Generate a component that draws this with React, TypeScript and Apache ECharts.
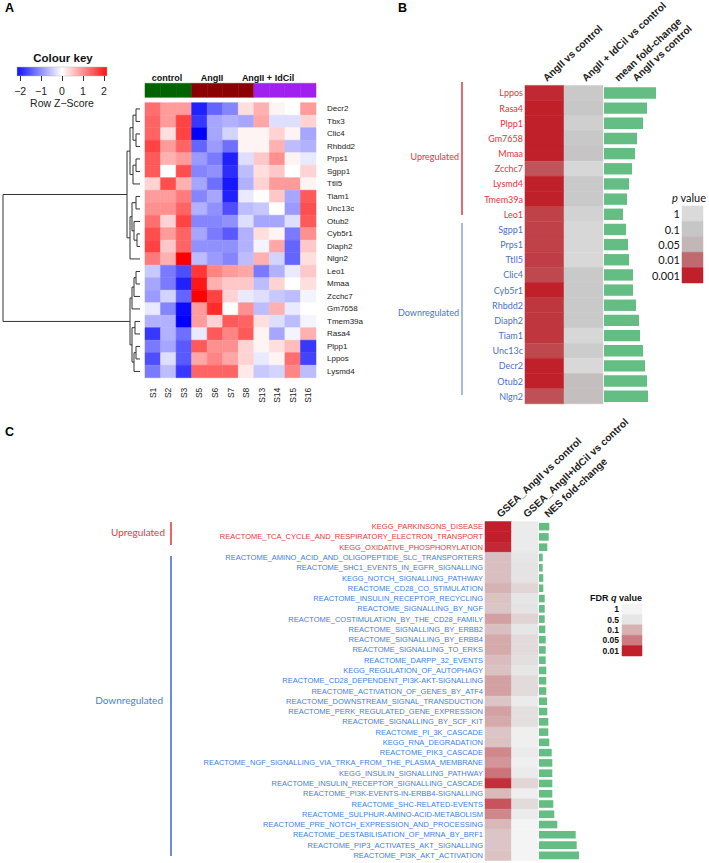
import React, { useEffect, useRef } from 'react';
import * as echarts from 'echarts';

// ---------------- Panel A data ----------------
const A_SAMPLES = ['S1', 'S2', 'S3', 'S5', 'S6', 'S7', 'S8', 'S13', 'S14', 'S15', 'S16'];
const A_GENES = ['Decr2', 'Tbx3', 'Clic4', 'Rhbdd2', 'Prps1', 'Sgpp1', 'Ttll5', 'Tiam1', 'Unc13c', 'Otub2', 'Cyb5r1', 'Diaph2', 'Nlgn2', 'Leo1', 'Mmaa', 'Zcchc7', 'Gm7658', 'Tmem39a', 'Rasa4', 'Plpp1', 'Lppos', 'Lysmd4'];
const A_ZSCORES = [
  [1.3, 0.9, 0.9, -2.0, -1.4, -1.1, 0.3, 0.7, 0.1, 0, 0.9],
  [1.4, 0.9, 1.7, -1.8, -0.8, -0.7, -0.8, 0.8, -0.3, -0.3, 0.4],
  [1.4, 0.3, 1.7, -2.3, -0.8, -0.4, 0.1, 0.1, 0.4, 0.1, -0.8],
  [1.7, 0.9, 1.4, -1.4, -0.9, -1.3, 0.1, 0.1, 0.7, -0.6, -0.7],
  [1.5, 0.7, 0.9, -0.9, -1.2, -2.0, -0.3, 0.5, 1.0, 0.1, -0.2],
  [1.5, 0.0, 1.6, -1.1, -1.0, -1.9, -0.6, 0.3, 0.5, 0, 0.4],
  [0.4, 1.6, 0.7, -0.8, -1.3, -2.1, -0.7, 0.4, 0.9, 0.9, 0.1],
  [0.9, 0.9, 1.2, -1.1, -0.8, -2.0, -0.2, 0, 0.5, -0.8, 1.5],
  [1.0, 1.0, 1.4, -0.7, -1.0, -1.6, -0.6, -0.5, 0, -0.9, 1.6],
  [1.3, 0.4, 1.7, -1.1, -1.1, -1.0, -0.3, -0.8, -0.8, -0.3, 1.5],
  [1.6, 0.9, 1.4, -0.8, -1.2, -1.5, -0.7, 0.3, 0.1, -1.2, 1.0],
  [1.7, 0.5, 1.4, -1.0, -1.0, -1.0, -0.7, -0.1, 0.8, -1.4, 0.5],
  [1.2, 0.7, 2.3, -0.6, -0.9, -1.1, -0.6, 0.7, -0.4, -1.4, 0.3],
  [-0.5, -1.2, -1.6, 1.8, 1.1, 0.9, 0.8, -1.2, -0.7, -0.2, 0.5],
  [-0.8, -1.2, -2.0, 2.1, 0.7, 0.5, 0.5, -0.6, 0.4, 0, 0.3],
  [-0.9, -0.4, -1.4, 2.3, 1.7, 0.4, -0.2, -0.3, -0.5, -0.6, -0.1],
  [-0.2, -1.1, -2.2, 0.9, 1.9, 0, 1.0, -0.6, 0.7, -0.2, 0],
  [-0.7, -0.7, -2.4, 0.9, 0.4, 1.5, 1.4, 0.3, -0.3, -0.6, -0.1],
  [-1.8, -0.7, -1.3, -0.2, 1.5, 1.1, 1.5, 0.1, -0.8, -0.1, 0.7],
  [-1.2, -0.8, -1.5, 1.5, 1.0, 1.0, 0.4, 0.1, 0.3, 0.6, -1.8],
  [-1.6, -0.3, -1.5, 0.8, 1.1, 0.8, 0.4, -0.2, 0.1, 1.3, -1.7],
  [-1.2, -0.6, -1.8, 1.4, 1.4, 1.4, 0.2, -0.5, -0.4, 1.1, -0.6],
];
const A_GROUPS = ['control', 'AngII', 'AngII + IdCil'];
const A_GROUP_OF_SAMPLE = [0, 0, 0, 1, 1, 1, 1, 2, 2, 2, 2];
const A_KEY_TICKS = [-2, -1, 0, 1, 2];
// row dendrogram merges: [childA, childB, height]; child = gene name or merge index
const A_DENDRO_MERGES: [string | number, string | number, number][] = [
  ['Decr2', 'Tbx3', 4],
  ['Clic4', 'Rhbdd2', 4],
  [0, 1, 7],
  ['Prps1', 'Sgpp1', 4],
  [3, 'Ttll5', 7],
  [2, 4, 10],
  ['Tiam1', 'Unc13c', 4],
  ['Cyb5r1', 'Diaph2', 3],
  ['Otub2', 7, 6],
  [6, 8, 8],
  [9, 'Nlgn2', 10],
  [5, 10, 13],
  ['Leo1', 'Mmaa', 4],
  [12, 'Zcchc7', 6],
  [13, 'Gm7658', 8],
  ['Tmem39a', 'Rasa4', 5],
  ['Plpp1', 'Lppos', 4],
  [16, 'Lysmd4', 6],
  [15, 17, 8],
  [14, 18, 10],
  [11, 19, 137],
];

// ---------------- Panel B data ----------------
const B_COLUMNS = ['AngII vs control', 'AngII + IdCil vs control'];
const B_BAR_HEADER = ['mean fold-change', 'AngII vs control'];
const B_GENES = ['Lppos', 'Rasa4', 'Plpp1', 'Gm7658', 'Mmaa', 'Zcchc7', 'Lysmd4', 'Tmem39a', 'Leo1', 'Sgpp1', 'Prps1', 'Ttll5', 'Clic4', 'Cyb5r1', 'Rhbdd2', 'Diaph2', 'Tiam1', 'Unc13c', 'Decr2', 'Otub2', 'Nlgn2'];
const B_UP_COUNT = 9;
const B_P_ANGII = [0.0013, 0.0005, 0.0005, 0.0005, 0.0005, 0.005, 0.0007, 0.0008, 0.0028, 0.0028, 0.0028, 0.0025, 0.0035, 0.0005, 0.002, 0.002, 0.002, 0.0035, 0.0005, 0.0006, 0.0045];
const B_P_IDCIL = [0.14, 0.11, 0.28, 0.12, 0.09, 0.7, 0.14, 0.14, 0.4, 0.7, 0.7, 0.8, 0.14, 0.14, 0.14, 0.14, 0.7, 0.2, 0.8, 0.07, 0.07];
const B_MEAN_FOLD = [5.2, 4.3, 3.9, 3.3, 3.1, 2.8, 2.5, 2.3, 1.9, 2.2, 2.4, 2.5, 2.9, 2.9, 3.2, 3.5, 3.6, 3.9, 4.1, 4.3, 4.4];
const B_LEGEND_LEVELS = [1, 0.1, 0.05, 0.01, 0.001];

// ---------------- Panel C data ----------------
const C_COLUMNS = ['GSEA_AngII vs control', 'GSEA_AngII+IdCil vs control'];
const C_BAR_HEADER = 'NES fold-change';
const C_PATHWAYS = [
  'KEGG_PARKINSONS_DISEASE',
  'REACTOME_TCA_CYCLE_AND_RESPIRATORY_ELECTRON_TRANSPORT',
  'KEGG_OXIDATIVE_PHOSPHORYLATION',
  'REACTOME_AMINO_ACID_AND_OLIGOPEPTIDE_SLC_TRANSPORTERS',
  'REACTOME_SHC1_EVENTS_IN_EGFR_SIGNALLING',
  'KEGG_NOTCH_SIGNALLING_PATHWAY',
  'REACTOME_CD28_CO_STIMULATION',
  'REACTOME_INSULIN_RECEPTOR_RECYCLING',
  'REACTOME_SIGNALLING_BY_NGF',
  'REACTOME_COSTIMULATION_BY_THE_CD28_FAMILY',
  'REACTOME_SIGNALLING_BY_ERBB2',
  'REACTOME_SIGNALLING_BY_ERBB4',
  'REACTOME_SIGNALLING_TO_ERKS',
  'REACTOME_DARPP_32_EVENTS',
  'KEGG_REGULATION_OF_AUTOPHAGY',
  'REACTOME_CD28_DEPENDENT_PI3K-AKT-SIGNALLING',
  'REACTOME_ACTIVATION_OF_GENES_BY_ATF4',
  'REACTOME_DOWNSTREAM_SIGNAL_TRANSDUCTION',
  'REACTOME_PERK_REGULATED_GENE_EXPRESSION',
  'REACTOME_SIGNALLING_BY_SCF_KIT',
  'REACTOME_PI_3K_CASCADE',
  'KEGG_RNA_DEGRADATION',
  'REACTOME_PIK3_CASCADE',
  'REACTOME_NGF_SIGNALLING_VIA_TRKA_FROM_THE_PLASMA_MEMBRANE',
  'KEGG_INSULIN_SIGNALLING_PATHWAY',
  'REACTOME_INSULIN_RECEPTOR_SIGNALLING_CASCADE',
  'REACTOME_PI3K-EVENTS-IN-ERBB4-SIGNALLING',
  'REACTOME_SHC-RELATED-EVENTS',
  'REACTOME_SULPHUR-AMINO-ACID-METABOLISM',
  'REACTOME_PRE_NOTCH_EXPRESSION_AND_PROCESSING',
  'REACTOME_DESTABILISATION_OF_MRNA_BY_BRF1',
  'REACTOME_PIP3_ACTIVATES_AKT_SIGNALLING',
  'REACTOME_PI3K_AKT_ACTIVATION',
];
const C_UP_COUNT = 3;
const C_Q_ANGII = [0.005, 0.005, 0.012, 0.15, 0.15, 0.15, 0.1, 0.17, 0.18, 0.08, 0.15, 0.09, 0.09, 0.14, 0.16, 0.08, 0.08, 0.18, 0.08, 0.09, 0.18, 0.17, 0.06, 0.07, 0.045, 0.013, 0.13, 0.025, 0.058, 0.12, 0.18, 0.18, 0.17];
const C_Q_IDCIL = [0.65, 0.65, 0.65, 0.5, 0.45, 0.45, 0.3, 0.5, 0.45, 0.28, 0.5, 0.35, 0.35, 0.4, 0.5, 0.35, 0.35, 0.65, 0.4, 0.4, 0.8, 0.8, 0.65, 0.8, 0.65, 0.3, 0.8, 0.35, 0.65, 1, 1, 1, 1];
const C_NES_FOLD = [1.03, 0.97, 0.83, 0.37, 0.37, 0.43, 0.43, 0.57, 0.57, 0.57, 0.63, 0.67, 0.67, 0.67, 0.73, 0.73, 0.73, 0.8, 0.83, 0.93, 0.93, 1.03, 1.27, 1.33, 1.33, 1.33, 1.33, 1.43, 1.53, 1.83, 3.67, 3.77, 4.0];
const C_LEGEND_LEVELS = [1, 0.5, 0.1, 0.05, 0.01];

// ---------------- styles / layout ----------------
const FONT = 'Liberation Sans';
const CAL = 'Lato';
const RED_B = '#e8323a';
const BLUE_B = '#4a72c8';
const RED_C = '#ee3636';
const BLUE_C = '#3b80e6';
const GREEN = '#64bd82';
const GROUP_COLORS = ['#006400', '#8b0000', '#a020f0'];
const B_STOPS: [number, string][] = [[0, '#dadada'], [1, '#c6c6c6'], [1.3, '#c3b6b6'], [2, '#bf6a6e'], [3, '#c0202a']];
const C_STOPS: [number, string][] = [[0, '#f4f4f4'], [0.3, '#e6e6e6'], [1, '#d6b2b3'], [1.3, '#cc7b80'], [2, '#c11f2b']];

const G_B_HEAT = { left: 525, top: 85.4, width: 78, height: 318.4 };
const G_C_HEAT = { left: 485, top: 521.5, width: 53, height: 339 };
const HEADER_ROT = (43 * Math.PI) / 180;

function hex(h: string) {
  return [parseInt(h.slice(1, 3), 16), parseInt(h.slice(3, 5), 16), parseInt(h.slice(5, 7), 16)];
}
function interp(stops: [number, string][], x: number) {
  if (x <= stops[0][0]) return stops[0][1];
  if (x >= stops[stops.length - 1][0]) return stops[stops.length - 1][1];
  for (let i = 0; i < stops.length - 1; i++) {
    const [x0, c0] = stops[i];
    const [x1, c1] = stops[i + 1];
    if (x >= x0 && x <= x1) {
      const t = (x - x0) / (x1 - x0);
      const a = hex(c0), b = hex(c1);
      const r = a.map((v, k) => Math.round(v + (b[k] - v) * t));
      return `rgb(${r[0]},${r[1]},${r[2]})`;
    }
  }
  return stops[0][1];
}
const aColor = (v: number) => {
  const t = Math.max(-1, Math.min(1, v / 2.3));
  if (t < 0) {
    const g = Math.round(255 * (1 + t));
    return `rgb(${g},${g},255)`;
  }
  const g = Math.round(255 * (1 - t));
  return `rgb(255,${g},${g})`;
};
const bColor = (p: number) => interp(B_STOPS, -Math.log10(p));
const cColor = (q: number) => interp(C_STOPS, -Math.log10(q));

const heatRender = (colorFn: (v: number) => string) => (params: any, api: any) => {
  const c = api.coord([api.value(0), api.value(1)]);
  const s = api.size([1, 1]);
  const fill = colorFn(api.value(2));
  return {
    type: 'rect',
    shape: { x: c[0] - s[0] / 2, y: c[1] - s[1] / 2, width: s[0], height: s[1] },
    style: { fill, stroke: fill, lineWidth: 0.5 },
  };
};

function buildDendro() {
  const ys: number[] = [];
  const hs: number[] = [];
  const data: number[][] = [];
  const yOf = (c: string | number) => (typeof c === 'string' ? A_GENES.indexOf(c) : ys[c]);
  const hOf = (c: string | number) => (typeof c === 'string' ? 0 : hs[c]);
  A_DENDRO_MERGES.forEach(([a, b, h]) => {
    const ya = yOf(a), yb = yOf(b);
    data.push([h, ya, yb, hOf(a), hOf(b)]);
    ys.push((ya + yb) / 2);
    hs.push(h);
  });
  return data;
}

function buildOption() {
  const noLine = { axisLine: { show: false }, axisTick: { show: false }, splitLine: { show: false } };
  const aHeat: number[][] = [];
  A_ZSCORES.forEach((row, r) => row.forEach((v, c) => aHeat.push([c, r, v])));
  const bHeat: number[][] = [];
  B_GENES.forEach((_, r) => {
    bHeat.push([0, r, B_P_ANGII[r]]);
    bHeat.push([1, r, B_P_IDCIL[r]]);
  });
  const cHeat: number[][] = [];
  C_PATHWAYS.forEach((_, r) => {
    cHeat.push([0, r, C_Q_ANGII[r]]);
    cHeat.push([1, r, C_Q_IDCIL[r]]);
  });

  const grid = [
    { left: 3, top: 102.7, width: 137, height: 275 }, // 0 dendrogram
    { left: 145, top: 102.7, width: 171, height: 275 }, // 1 heatmap A
    { left: 145, top: 83.3, width: 171, height: 14 }, // 2 annotation
    { left: 17, top: 67, width: 90, height: 9 }, // 3 colour key
    G_B_HEAT, // 4 B heat
    { left: 604, top: 85.4, width: 56, height: 318.4 }, // 5 B bars
    { left: 682, top: 206, width: 21, height: 77 }, // 6 B legend
    G_C_HEAT, // 7 C heat
    { left: 539, top: 521.5, width: 42, height: 339 }, // 8 C bars
    { left: 622, top: 604, width: 20, height: 52 }, // 9 C legend
  ].map((g) => ({ ...g, outerBoundsMode: 'none', containLabel: false }));

  const xAxis: any[] = [
    { gridIndex: 0, type: 'value', min: 0, max: 137, inverse: true, show: false },
    {
      gridIndex: 1, type: 'category', data: A_SAMPLES, position: 'bottom', ...noLine,
      axisLabel: { rotate: 90, interval: 0, fontSize: 8.5, margin: 10, color: '#222', fontFamily: FONT },
    },
    { gridIndex: 2, type: 'category', data: A_SAMPLES, show: false },
    {
      gridIndex: 3, type: 'value', min: -2.15, max: 2.15,
      axisLine: { show: false }, splitLine: { show: false },
      axisTick: { show: true, length: 5, customValues: A_KEY_TICKS, lineStyle: { color: '#333', width: 1 } },
      axisLabel: {
        customValues: A_KEY_TICKS, fontSize: 10.5, margin: 9, color: '#222', fontFamily: FONT,
        formatter: (v: number) => (v < 0 ? '\u2212' + Math.abs(v) : String(v)),
      },
      name: 'Row Z\u2212Score', nameLocation: 'middle', nameGap: 21,
      nameTextStyle: { fontSize: 10.5, color: '#222', fontFamily: FONT },
    },
    { gridIndex: 4, type: 'category', data: B_COLUMNS, show: false },
    { gridIndex: 5, type: 'value', min: 0, max: 5.6, show: false },
    { gridIndex: 6, type: 'category', data: ['p'], show: false },
    { gridIndex: 7, type: 'category', data: C_COLUMNS, show: false },
    { gridIndex: 8, type: 'value', min: 0, max: 4.2, show: false },
    { gridIndex: 9, type: 'category', data: ['q'], show: false },
  ];

  const yAxis: any[] = [
    { gridIndex: 0, type: 'value', min: -0.5, max: A_GENES.length - 0.5, inverse: true, show: false },
    {
      gridIndex: 1, type: 'category', data: A_GENES, inverse: true, position: 'right', ...noLine,
      axisLabel: { interval: 0, fontSize: 8, margin: 11, color: '#222', fontFamily: FONT },
    },
    { gridIndex: 2, type: 'category', data: ['group'], show: false },
    { gridIndex: 3, type: 'value', min: 0, max: 1, show: false },
    {
      gridIndex: 4, type: 'category', data: B_GENES, inverse: true, position: 'left', ...noLine,
      axisLabel: {
        interval: 0, fontSize: 9, margin: 2, fontFamily: CAL,
        color: (v: string) => (B_GENES.indexOf(v) < B_UP_COUNT ? RED_B : BLUE_B),
      },
    },
    { gridIndex: 5, type: 'category', data: B_GENES, inverse: true, show: false },
    {
      gridIndex: 6, type: 'category', data: B_LEGEND_LEVELS.map(String), inverse: true, position: 'left', ...noLine,
      axisLabel: { interval: 0, fontSize: 11, margin: 2, fontFamily: CAL, color: '#111' },
    },
    {
      gridIndex: 7, type: 'category', data: C_PATHWAYS, inverse: true, position: 'left', ...noLine,
      axisLabel: {
        interval: 0, fontSize: 7.5, margin: 2, fontFamily: FONT,
        color: (v: string) => (C_PATHWAYS.indexOf(v) < C_UP_COUNT ? RED_C : BLUE_C),
      },
    },
    { gridIndex: 8, type: 'category', data: C_PATHWAYS, inverse: true, show: false },
    {
      gridIndex: 9, type: 'category', data: C_LEGEND_LEVELS.map(String), inverse: true, position: 'left', ...noLine,
      axisLabel: { interval: 0, fontSize: 8.5, fontWeight: 'bold', margin: 3, fontFamily: FONT, color: '#111' },
    },
  ];

  const series: any[] = [
    {
      type: 'custom', xAxisIndex: 0, yAxisIndex: 0, data: buildDendro(),
      encode: { x: [0, 3, 4], y: [1, 2] },
      renderItem: (params: any, api: any) => {
        const h = api.value(0), ya = api.value(1), yb = api.value(2), ha = api.value(3), hb = api.value(4);
        const pts = [api.coord([ha, ya]), api.coord([h, ya]), api.coord([h, yb]), api.coord([hb, yb])];
        return { type: 'polyline', shape: { points: pts }, style: { stroke: '#333', lineWidth: 1, fill: 'none' } };
      },
    },
    { type: 'custom', xAxisIndex: 1, yAxisIndex: 1, data: aHeat, encode: { x: 0, y: 1 }, renderItem: heatRender(aColor) },
    {
      type: 'custom', xAxisIndex: 2, yAxisIndex: 2, encode: { x: 0, y: 1 },
      data: A_GROUP_OF_SAMPLE.map((g, i) => [i, 0, g]),
      renderItem: heatRender((g) => GROUP_COLORS[g]),
    },
    { type: 'custom', xAxisIndex: 4, yAxisIndex: 4, data: bHeat, encode: { x: 0, y: 1 }, renderItem: heatRender(bColor) },
    {
      type: 'bar', xAxisIndex: 5, yAxisIndex: 5, data: B_MEAN_FOLD, barCategoryGap: '25%',
      itemStyle: { color: GREEN },
    },
    {
      type: 'custom', xAxisIndex: 6, yAxisIndex: 6, encode: { x: 0, y: 1 },
      data: B_LEGEND_LEVELS.map((l, i) => [0, i, l]), renderItem: heatRender(bColor),
    },
    { type: 'custom', xAxisIndex: 7, yAxisIndex: 7, data: cHeat, encode: { x: 0, y: 1 }, renderItem: heatRender(cColor) },
    {
      type: 'bar', xAxisIndex: 8, yAxisIndex: 8, data: C_NES_FOLD, barCategoryGap: '26%',
      itemStyle: { color: GREEN },
    },
    {
      type: 'custom', xAxisIndex: 9, yAxisIndex: 9, encode: { x: 0, y: 1 },
      data: C_LEGEND_LEVELS.map((l, i) => [0, i, l]), renderItem: heatRender(cColor),
    },
  ];

  const txt = (x: number, y: number, text: string, style: any, extra: any = {}) => ({
    type: 'text', x, y, ...extra,
    style: { text, fontFamily: FONT, fill: '#111', align: 'left', verticalAlign: 'middle', ...style },
  });
  const vline = (x: number, y1: number, y2: number, color: string) => ({
    type: 'line', shape: { x1: x, y1, x2: x, y2 }, style: { stroke: color, lineWidth: 1.5 },
  });
  const headerStyle = { fontSize: 10.2, fontWeight: 'bold', fill: '#222' };
  const rot = { rotation: HEADER_ROT };
  const colHeaders = (g: { left: number; top: number; width: number }, names: string[]) =>
    names.map((n, i) => txt(g.left + (i + 0.5) * (g.width / names.length), g.top - 6, n, headerStyle, rot));

  const graphic: any[] = [
    txt(5, 8, 'A', { fontSize: 12.5, fontWeight: 'bold', fill: '#000' }),
    txt(398, 8, 'B', { fontSize: 12.5, fontWeight: 'bold', fill: '#000' }),
    txt(5, 432, 'C', { fontSize: 12.5, fontWeight: 'bold', fill: '#000' }),
    txt(63, 58, 'Colour key', { fontSize: 11.5, fontWeight: 'bold', align: 'center' }),
    {
      type: 'rect', shape: { x: 17, y: 67, width: 90, height: 9 },
      style: {
        fill: new echarts.graphic.LinearGradient(0, 0, 1, 0, [
          { offset: 0, color: aColor(-2.15) },
          { offset: 0.5, color: aColor(0) },
          { offset: 1, color: aColor(2.15) },
        ]),
        stroke: '#bbb', lineWidth: 0.5,
      },
    },
    txt(167, 78, A_GROUPS[0], { fontSize: 9, fontWeight: 'bold', align: 'center' }),
    txt(212, 78, A_GROUPS[1], { fontSize: 9, fontWeight: 'bold', align: 'center' }),
    txt(268, 78, A_GROUPS[2], { fontSize: 9, fontWeight: 'bold', align: 'center' }),
    // B headers
    ...colHeaders(G_B_HEAT, B_COLUMNS),
    txt(616, 79.4, B_BAR_HEADER[0], headerStyle, rot),
    txt(634, 79.4, B_BAR_HEADER[1], headerStyle, rot),
    // B brackets
    vline(462, 82, 215, '#e2343c'),
    vline(462, 223, 395, '#8aa2d6'),
    txt(459, 156, 'Upregulated', { fontSize: 9, fontFamily: CAL, fill: RED_B, align: 'right' }),
    txt(459, 312, 'Downregulated', { fontSize: 9, fontFamily: CAL, fill: BLUE_B, align: 'right' }),
    // B legend title
    {
      type: 'text', x: 689, y: 197,
      style: {
        text: '{i|p}{n| value}', align: 'center', verticalAlign: 'middle',
        rich: {
          i: { fontStyle: 'italic', fontSize: 11, fontFamily: CAL, fill: '#111' },
          n: { fontSize: 11, fontFamily: CAL, fill: '#111' },
        },
      },
    },
    // C headers
    ...colHeaders(G_C_HEAT, C_COLUMNS),
    txt(546, 515.5, C_BAR_HEADER, headerStyle, rot),
    // C brackets
    vline(171, 522, 545, '#e8303a'),
    vline(171, 556, 856, '#3a64d2'),
    txt(165, 532, 'Upregulated', { fontSize: 10, fontFamily: CAL, fill: '#e8383c', align: 'right' }),
    txt(163, 700, 'Downregulated', { fontSize: 10, fontFamily: CAL, fill: '#3f7fe0', align: 'right' }),
    // C legend title
    {
      type: 'text', x: 616, y: 598,
      style: {
        text: '{b|FDR }{bi|q}{b| value}', align: 'center', verticalAlign: 'middle',
        rich: {
          b: { fontWeight: 'bold', fontSize: 9, fontFamily: FONT, fill: '#111' },
          bi: { fontWeight: 'bold', fontStyle: 'italic', fontSize: 9, fontFamily: FONT, fill: '#111' },
        },
      },
    },
  ];

  return {
    animation: false,
    backgroundColor: '#ffffff',
    textStyle: { fontFamily: FONT },
    grid,
    xAxis,
    yAxis,
    series,
    graphic,
  };
}

export default function App() {
  const ref = useRef<HTMLDivElement>(null);
  useEffect(() => {
    const chart = echarts.init(ref.current as HTMLDivElement, null, { renderer: 'svg' });
    chart.setOption(buildOption() as any);
    return () => chart.dispose();
  }, []);
  return (
    <div
      ref={ref}
      style={{ position: 'absolute', left: 0, top: 0, width: 709, height: 863, background: '#fff' }}
    />
  );
}
